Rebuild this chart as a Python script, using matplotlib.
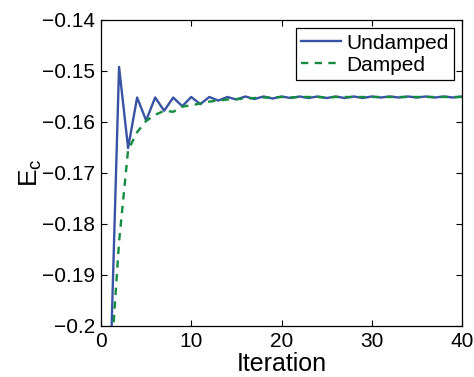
#!/usr/bin/env python3
import matplotlib
matplotlib.use('Agg')
import matplotlib.pyplot as plt
import numpy as np

plt.rcParams['font.family'] = ['Liberation Sans', 'DejaVu Sans']
plt.rcParams['mathtext.fontset'] = 'custom'
plt.rcParams['mathtext.rm'] = 'Liberation Sans'
plt.rcParams['mathtext.it'] = 'Liberation Sans'

# Data
iterations = np.arange(1, 41)
undamped = [-0.2110, -0.1492, -0.1651, -0.1552, -0.1597, -0.1552, -0.1578, -0.1552,
            -0.1569, -0.1551, -0.1565, -0.1551, -0.1558, -0.1551, -0.1556, -0.1550,
            -0.1555, -0.1550, -0.1554, -0.1550, -0.1553, -0.1550, -0.1553, -0.1550,
            -0.1553, -0.1550, -0.1553, -0.1550, -0.1553, -0.1550, -0.1552, -0.1550,
            -0.1552, -0.1550, -0.1552, -0.1550, -0.1552, -0.1550, -0.1552, -0.1550]
damped = [-0.2100, -0.1835, -0.1655, -0.1620, -0.1598, -0.1586, -0.1578, -0.1580,
          -0.1570, -0.1567, -0.1564, -0.1560, -0.1558, -0.1556, -0.1555, -0.1554,
          -0.1553, -0.1552, -0.1552, -0.1551, -0.1552, -0.1551, -0.1551, -0.1551,
          -0.1552, -0.1551, -0.1551, -0.1551, -0.1551, -0.1551, -0.1551, -0.1551,
          -0.1551, -0.1551, -0.1551, -0.1551, -0.1551, -0.1551, -0.1551, -0.1551]

xticks = [0, 10, 20, 30, 40]
yticks = [-0.2, -0.19, -0.18, -0.17, -0.16, -0.15, -0.14]
ytick_labels = ['\u22120.2', '\u22120.19', '\u22120.18', '\u22120.17',
                '\u22120.16', '\u22120.15', '\u22120.14']

fig = plt.figure(figsize=(4.74, 3.77), dpi=100)
ax = fig.add_axes([0.2131, 0.1353, 0.7616, 0.8117])

ax.plot(iterations, undamped, color='#3853a4', lw=1.7, label='Undamped')
ax.plot(iterations, damped, color='#138c3f', lw=1.7, ls=(0, (3.1, 2.7)), label='Damped')

ax.set_xlim(0, 40)
ax.set_ylim(-0.2, -0.14)
ax.set_xticks(xticks)
ax.set_yticks(yticks, ytick_labels)
ax.tick_params(direction='in', top=True, right=True, length=4, width=0.8,
               labelsize=15, pad=4)
for s in ax.spines.values():
    s.set_linewidth(0.9)

ax.set_xlabel('Iteration', fontsize=18, labelpad=1)
ax.set_ylabel(r'$\mathrm{E_c}$', fontsize=19, labelpad=-1)

leg = ax.legend(loc='upper right', fontsize=15, fancybox=False, framealpha=1,
                edgecolor='black', borderaxespad=0.4, handlelength=1.9,
                handletextpad=0.25, labelspacing=0.15, borderpad=0.25)
leg.get_frame().set_linewidth(0.9)

fig.savefig('out.png', dpi=100)
